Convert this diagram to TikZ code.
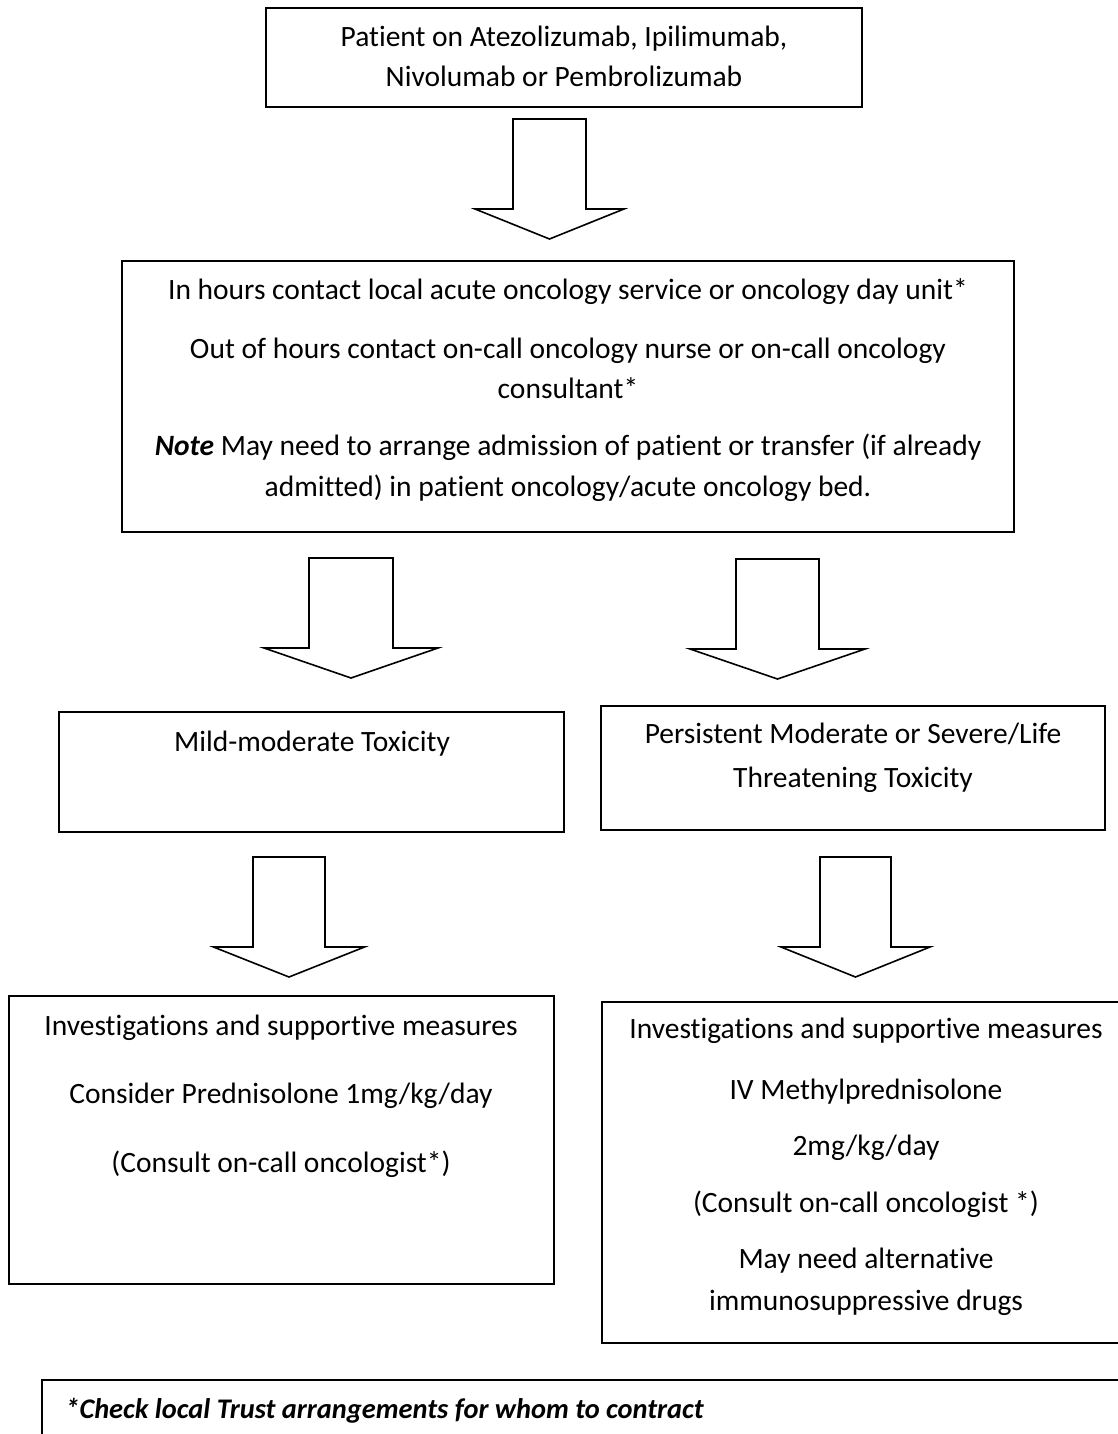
\documentclass[tikz,border=0pt]{standalone}
\usepackage{fontspec}
\setmainfont{Carlito}[Ligatures=NoCommon]
\usetikzlibrary{fit}

\tikzset{
  box/.style={draw, line width=1.1pt, inner sep=0pt},
  txt/.style={anchor=base, inner sep=0pt, font=\fontsize{14.75}{18}\selectfont},
  blockline/.style={draw, line width=0.8pt, line join=miter},
}

% hollow down arrow: name, top centre, half shaft, half head
\newcommand{\blockarrow}[4]{%
  \coordinate (#1) at (#2);
  \draw[blockline] (#1) ++(-#3,0) -- ++(0,90) -- ++({#3-#4},0) -- ++(#4,30)
    -- ++(#4,-30) -- ++({#3-#4},0) -- ++(0,-90) -- cycle;
}

\begin{document}
\begin{tikzpicture}[x=0.5pt, y=-0.5pt]
    \useasboundingbox (0,0) rectangle (1118,1434);
    \clip (0,0) rectangle (1118,1434);

    % boxes
    \node[box, fit={(266,8) (862,107)}] (start) {};
    \node[box, fit={(122,261) (1014,532)}] (contact) {};
    \node[box, fit={(59,712) (564,832)}] (mild) {};
    \node[box, fit={(601,706) (1105,830)}] (severe) {};
    \node[box, fit={(9,996) (554,1284)}] (mildcare) {};
    \node[box, fit={(602,1002) (1130,1343)}] (severecare) {};
    \node[box, fit={(42,1380) (1140,1470)}] (footnote) {};

    % arrows between the boxes
    \blockarrow{a1}{549.5,119}{36.5}{74.5}
    \blockarrow{a2l}{351,558}{42}{87}
    \blockarrow{a2r}{777.5,559}{41.5}{87.5}
    \blockarrow{a3l}{289,857}{36}{75.5}
    \blockarrow{a3r}{855.5,857}{35.5}{74.5}

    % texts
    \foreach \y/\msg [count=\i] in {47/{Patient on Atezolizumab, Ipilimumab,},
        87/{Nivolumab or Pembrolizumab}}
      \node[txt] (start\i) at (564,\y) {\msg};
    \foreach \y/\msg [count=\i] in {299/{In hours contact local acute oncology service or oncology day unit*},
        358/{Out of hours contact on-call oncology nurse or on-call oncology},
        398/{consultant*},
        455/{\textbf{\textit{Note}} May need to arrange admission of patient or transfer (if already},
        496/{admitted) in patient oncology/acute oncology bed.}}
      \node[txt] (contact\i) at (568,\y) {\msg};
    \node[txt] (mild1) at (312,751) {Mild-moderate Toxicity};
    \node[txt] (severe1) at (853,743) {Persistent Moderate or Severe/Life};
    \node[txt] (severe2) at (853,787) {Threatening Toxicity};
    \foreach \y/\msg [count=\i] in {1035/{Investigations and supportive measures},
        1103/{Consider Prednisolone 1mg/kg/day},
        1172/{(Consult on-call oncologist*)}}
      \node[txt] (mildcare\i) at (281,\y) {\msg};
    \foreach \y/\msg [count=\i] in {1038/{Investigations and supportive measures},
        1099/{IV Methylprednisolone},
        1155/{2mg/kg/day},
        1212/{(Consult on-call oncologist *)},
        1268/{May need alternative},
        1310/{immunosuppressive drugs}}
      \node[txt] (severecare\i) at (866,\y) {\msg};
    \node[txt, anchor=base west, font=\fontsize{14.2}{18}\selectfont\bfseries\itshape]
      (footnote1) at (65,1418) {*Check local Trust arrangements for whom to contract};
\end{tikzpicture}
\end{document}
